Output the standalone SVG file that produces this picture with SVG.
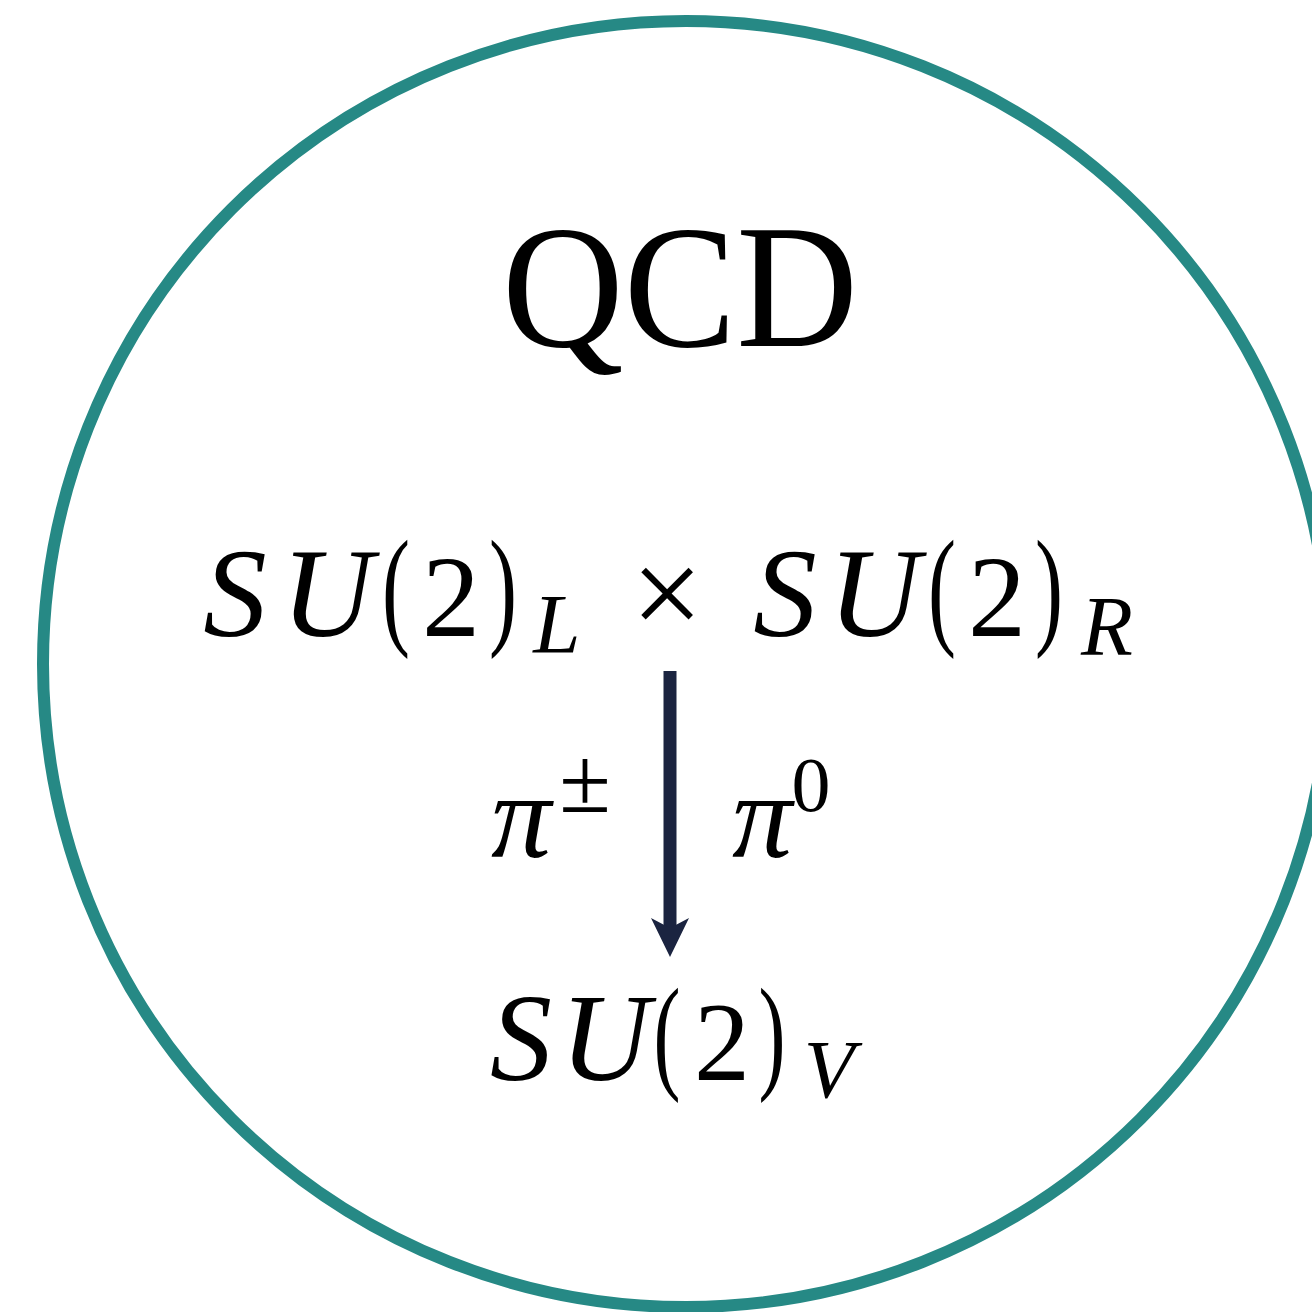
<svg xmlns="http://www.w3.org/2000/svg" width="1312" height="1312" viewBox="0 0 1312 1312">
<style>
.rm{font-family:"Liberation Serif","DejaVu Serif",serif;fill:#000}
.it{font-family:"Liberation Serif","DejaVu Serif",serif;font-style:italic;fill:#000}
.p{font-family:"Liberation Serif","DejaVu Serif",serif;fill:#000;text-anchor:middle}
</style>
<rect width="1312" height="1312" fill="#fff"/>
<g id="boundary">
<circle cx="686" cy="664" r="643" fill="none" stroke="#268985" stroke-width="12"/>
</g>
<g id="title">
<text class="rm" x="680" y="346" font-size="176" text-anchor="middle" textLength="356" lengthAdjust="spacingAndGlyphs">QCD</text>
</g>
<g id="node-chiral">
<text font-size="127" text-anchor="middle"><tspan class="it" x="235" y="636">S</tspan><tspan class="it" x="327" y="636">U</tspan></text>
<text class="p" x="396" y="631" font-size="132" textLength="28" lengthAdjust="spacingAndGlyphs">(</text>
<text class="p" x="451" y="636" font-size="116">2</text>
<text class="p" x="503" y="631" font-size="132" textLength="28" lengthAdjust="spacingAndGlyphs">)</text>
<text class="it" x="557" y="653" font-size="85" text-anchor="middle">L</text>
<text class="p" x="667" y="636" font-size="127">×</text>
<text font-size="127" text-anchor="middle"><tspan class="it" x="785" y="636">S</tspan><tspan class="it" x="874" y="636">U</tspan></text>
<text class="p" x="942" y="631" font-size="132" textLength="28" lengthAdjust="spacingAndGlyphs">(</text>
<text class="p" x="997" y="636" font-size="116">2</text>
<text class="p" x="1049" y="631" font-size="132" textLength="28" lengthAdjust="spacingAndGlyphs">)</text>
<text class="it" x="1107" y="655" font-size="85" text-anchor="middle">R</text>
</g>
<g id="node-vector">
<text font-size="124" text-anchor="middle"><tspan class="it" x="521" y="1080">S</tspan><tspan class="it" x="605" y="1080">U</tspan></text>
<text class="p" x="667" y="1076" font-size="126" textLength="27" lengthAdjust="spacingAndGlyphs">(</text>
<text class="p" x="722" y="1080" font-size="112">2</text>
<text class="p" x="772" y="1076" font-size="126" textLength="27" lengthAdjust="spacingAndGlyphs">)</text>
<text class="it" x="829" y="1097" font-size="83" text-anchor="middle">V</text>
</g>
<g id="connectors">
<line x1="670" y1="671" x2="670" y2="930" stroke="#1B2440" stroke-width="13"/>
<polygon points="651,918 670,928 689,918 670,957" fill="#1B2440"/>
<text font-size="120" text-anchor="middle"><tspan class="it" x="521" y="857">π</tspan><tspan class="rm" x="585" y="812" font-size="94">±</tspan><tspan class="it" x="762" y="857">π</tspan><tspan class="rm" x="811" y="811" font-size="78">0</tspan></text>
</g>
</svg>
